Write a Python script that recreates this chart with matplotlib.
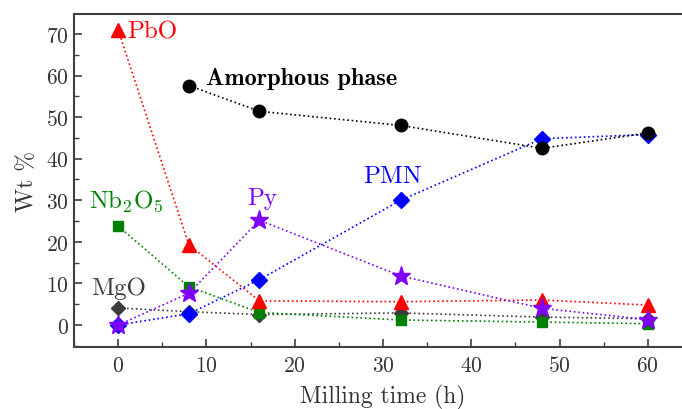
import matplotlib
matplotlib.use("Agg")
import matplotlib.pyplot as plt
from matplotlib.ticker import MultipleLocator

plt.rcParams["font.family"] = "serif"
plt.rcParams["font.serif"] = ["cmr10", "DejaVu Serif"]
plt.rcParams["mathtext.fontset"] = "cm"
plt.rcParams["axes.formatter.use_mathtext"] = True

# Milling time (h)
time_h = [0, 8, 16, 32, 48, 60]

# Phase weight fractions (wt %)
mgo = [4.1, 3.2, 2.5, 2.9, 1.9, 1.5]
nb2o5 = [23.8, 9.2, 3.0, 1.2, 0.7, 0.3]
pbo = [71.0, 19.3, 5.8, 5.6, 6.0, 4.8]
pmn = [0.0, 2.7, 10.9, 30.0, 44.8, 45.8]
py = [0.0, 7.6, 25.2, 11.8, 4.0, 1.3]
amorphous_t = [8, 16, 32, 48, 60]
amorphous = [57.6, 51.4, 48.0, 42.5, 46.2]

fig = plt.figure(figsize=(6.82, 4.10), dpi=100)
ax = fig.add_axes([0.1085, 0.1512, 0.9062, 0.8122])

line_kw = dict(linestyle=":", linewidth=1.2)
ax.plot(time_h, mgo, color="#3c3c3c", marker="D", markersize=7.5, **line_kw)
ax.plot(time_h, nb2o5, color="#008000", marker="s", markersize=7.5, **line_kw)
ax.plot(time_h, pbo, color="#ff0000", marker="^", markersize=10, **line_kw)
ax.plot(time_h, pmn, color="#0000ff", marker="D", markersize=8.5, **line_kw)
ax.plot(time_h, py, color="#8000ff", marker="*", markersize=14, **line_kw)
ax.plot(amorphous_t, amorphous, color="black", marker="o", markersize=9, **line_kw)

label_fs = 18
ax.text(1.0, 70.7, "PbO", color="#ff0000", fontsize=label_fs, va="center")
ax.text(10.0, 59.3, "Amorphous phase", color="black", fontsize=17.5,
        va="center", family=["cmb10", "DejaVu Serif"])
ax.text(27.7, 35.8, "PMN", color="#0000ff", fontsize=label_fs, va="center")
ax.text(14.6, 30.6, "Py", color="#8000ff", fontsize=label_fs, va="center")
ax.text(-3.3, 29.9, r"Nb$_2$O$_5$", color="#008000", fontsize=label_fs, va="center")
ax.text(-3.1, 8.9, "MgO", color="#3c3c3c", fontsize=label_fs, va="center")

ax.set_xlim(-5, 65)
ax.set_ylim(-5.3, 74.8)
ax.set_xticks([0, 10, 20, 30, 40, 50, 60])
ax.set_yticks([0, 10, 20, 30, 40, 50, 60, 70])
ax.xaxis.set_minor_locator(MultipleLocator(5))
ax.yaxis.set_minor_locator(MultipleLocator(5))
ax.tick_params(which="both", direction="in", colors="#404040", labelcolor="#333333",
               top=False, right=False, labelsize=15.5)
ax.tick_params(which="major", length=6, width=1.2)
ax.tick_params(which="minor", length=3.5, width=1.0)
ax.tick_params(axis="x", pad=6)
for sp in ax.spines.values():
    sp.set_color("#404040")
    sp.set_linewidth(1.5)
ax.spines["right"].set_visible(False)

ax.set_xlabel("Milling time (h)", fontsize=17, color="#333333", labelpad=6)
ax.set_ylabel("Wt %", fontsize=17, color="#333333", labelpad=6)

fig.savefig("out.png", dpi=100)
